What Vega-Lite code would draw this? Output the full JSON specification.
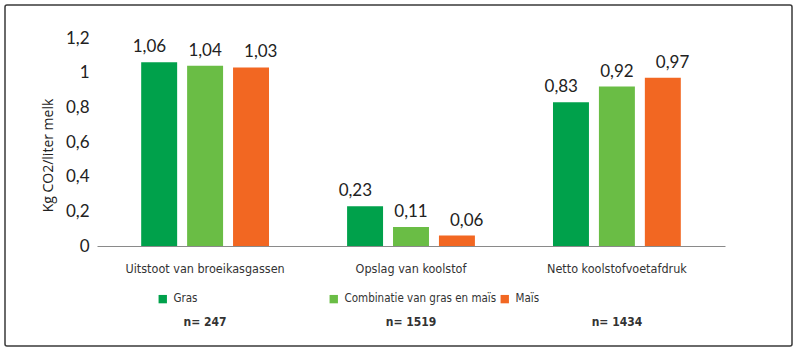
{
  "$schema": "https://vega.github.io/schema/vega-lite/v6.json",
  "width": 787,
  "height": 341,
  "autosize": {"type": "none"},
  "padding": {"left": 5, "top": 5, "right": 8, "bottom": 5},
  "background": "white",
  "config": {
    "view": {"stroke": "#3a3a3a", "strokeWidth": 1.5, "cornerRadius": 2},
    "font": "DejaVu Sans Condensed, Roboto, sans-serif"
  },
  "data": {
    "values": [
      {"categorie": "Uitstoot van broeikasgassen", "type": "Gras", "waarde": 1.06, "label": "1,06"},
      {"categorie": "Uitstoot van broeikasgassen", "type": "Combinatie van gras en maïs", "waarde": 1.04, "label": "1,04"},
      {"categorie": "Uitstoot van broeikasgassen", "type": "Maïs", "waarde": 1.03, "label": "1,03"},
      {"categorie": "Opslag van koolstof", "type": "Gras", "waarde": 0.23, "label": "0,23"},
      {"categorie": "Opslag van koolstof", "type": "Combinatie van gras en maïs", "waarde": 0.11, "label": "0,11"},
      {"categorie": "Opslag van koolstof", "type": "Maïs", "waarde": 0.06, "label": "0,06"},
      {"categorie": "Netto koolstofvoetafdruk", "type": "Gras", "waarde": 0.83, "label": "0,83"},
      {"categorie": "Netto koolstofvoetafdruk", "type": "Combinatie van gras en maïs", "waarde": 0.92, "label": "0,92"},
      {"categorie": "Netto koolstofvoetafdruk", "type": "Maïs", "waarde": 0.97, "label": "0,97"}
    ]
  },
  "layer": [
    {
      "mark": {"type": "bar"},
      "encoding": {
        "x": {
          "field": "categorie", "type": "nominal", "sort": null,
          "scale": {"domain": ["Uitstoot van broeikasgassen", "Opslag van koolstof", "Netto koolstofvoetafdruk"], "range": [92, 720], "paddingInner": 0, "paddingOuter": 0.025},
          "axis": {"orient": "bottom", "offset": -100, "title": null, "labelAngle": 0, "domainColor": "#8a8a8a", "domainWidth": 1, "ticks": false, "labelPadding": 16, "labelFontSize": 12.5, "labelColor": "#333333", "labelFont": "DejaVu Sans Condensed, Roboto, sans-serif", "labelLimit": 400}
        },
        "xOffset": {
          "field": "type", "type": "nominal", "sort": null,
          "scale": {"domain": ["Gras", "Combinatie van gras en maïs", "Maïs"], "paddingInner": 0.217, "paddingOuter": 0.85}
        },
        "y": {
          "field": "waarde", "type": "quantitative",
          "scale": {"domain": [0, 1.2], "range": [241, 33], "nice": false},
          "axis": {"offset": -92, "values": [0, 0.2, 0.4, 0.6, 0.8, 1, 1.2], "labelExpr": "replace(format(datum.value, '~g'), '.', ',')", "grid": false, "ticks": false, "domain": false, "labelFont": "Lato", "labelFontSize": 17, "labelColor": "#222222", "labelPadding": 8, "title": "Kg CO2/liter melk", "titleFont": "Open Sans", "titleFontSize": 14, "titleFontWeight": "normal", "titleColor": "#222222", "titleX": -49, "titleY": 150, "titleAngle": -90, "titleAlign": "center", "titleBaseline": "middle"}
        },
        "color": {
          "field": "type", "type": "nominal", "sort": null,
          "scale": {"domain": ["Gras", "Combinatie van gras en maïs", "Maïs"], "range": ["#00a14b", "#6abd45", "#f26722"]},
          "legend": {"orient": "none", "legendX": 152, "legendY": 288, "direction": "horizontal", "columns": 3, "gridAlign": "all", "columnPadding": 2, "title": null, "symbolType": "square", "symbolSize": 70, "symbolStrokeWidth": 0, "labelFontSize": 11.5, "labelFont": "DejaVu Sans Condensed, Roboto, sans-serif", "labelColor": "#333333", "labelOffset": 5, "labelLimit": 400}
        }
      }
    },
    {
      "mark": {"type": "text", "baseline": "bottom", "dy": -6, "fontSize": 17, "font": "Lato", "color": "#222222"},
      "encoding": {
        "x": {
          "field": "categorie", "type": "nominal", "sort": null,
          "scale": {"domain": ["Uitstoot van broeikasgassen", "Opslag van koolstof", "Netto koolstofvoetafdruk"], "range": [92, 720], "paddingInner": 0, "paddingOuter": 0.025},
          "axis": {"orient": "bottom", "offset": -100, "title": null, "labelAngle": 0, "domain": false, "ticks": false, "labelPadding": 70, "labelFontSize": 12, "labelFontWeight": "bold", "labelColor": "#333333", "labelFont": "DejaVu Sans Condensed, Roboto, sans-serif", "labelExpr": "datum.value == 'Uitstoot van broeikasgassen' ? 'n= 247' : datum.value == 'Opslag van koolstof' ? 'n= 1519' : 'n= 1434'"}
        },
        "xOffset": {
          "field": "type", "type": "nominal", "sort": null,
          "scale": {"domain": ["Gras", "Combinatie van gras en maïs", "Maïs"], "paddingInner": 0.217, "paddingOuter": 0.85}
        },
        "y": {
          "field": "waarde", "type": "quantitative",
          "scale": {"domain": [0, 1.2], "range": [241, 33], "nice": false},
          "axis": {"offset": -92, "values": [0, 0.2, 0.4, 0.6, 0.8, 1, 1.2], "labelExpr": "replace(format(datum.value, '~g'), '.', ',')", "grid": false, "ticks": false, "domain": false, "labelFont": "Lato", "labelFontSize": 17, "labelColor": "#222222", "labelPadding": 8, "title": "Kg CO2/liter melk", "titleFont": "Open Sans", "titleFontSize": 14, "titleFontWeight": "normal", "titleColor": "#222222", "titleX": -49, "titleY": 150, "titleAngle": -90, "titleAlign": "center", "titleBaseline": "middle"}
        },
        "text": {"field": "label"}
      }
    }
  ],
  "resolve": {"scale": {"x": "independent", "xOffset": "independent"}, "axis": {"x": "independent"}}
}
